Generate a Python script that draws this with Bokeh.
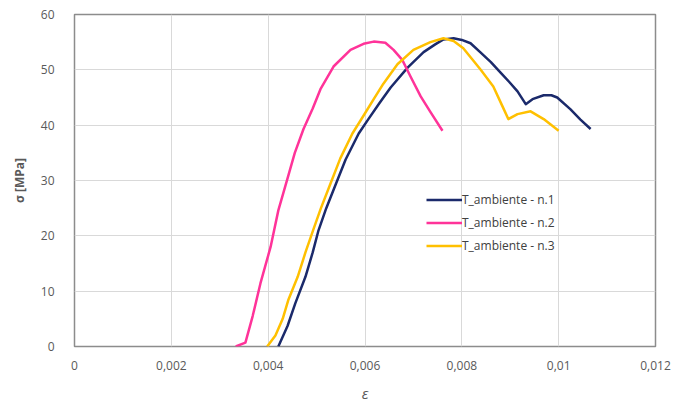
from bokeh.plotting import figure
from bokeh.models import Range1d, FixedTicker, CustomJSTickFormatter, Legend, LegendItem
from bokeh.embed import file_html
from bokeh.resources import INLINE

# strain / stress
eps_1 = [0.00421, 0.0044, 0.00456, 0.00477, 0.00492, 0.00504, 0.0052, 0.00539, 0.0056, 0.00587,
         0.00607, 0.0063, 0.00653, 0.00688, 0.00721, 0.00745, 0.00762, 0.00783, 0.008, 0.00818,
         0.00839, 0.0086, 0.0088, 0.00898, 0.00915, 0.00932, 0.00946, 0.00969, 0.00985,
         0.00997, 0.01024, 0.01045, 0.01066]
sig_1 = [0.0, 3.7, 7.8, 12.6, 17.0, 21.0, 25.0, 29.2, 33.8, 38.5,
         41.1, 44.0, 46.8, 50.4, 53.2, 54.6, 55.5, 55.7, 55.4, 54.8,
         53.1, 51.4, 49.5, 47.8, 46.1, 43.8, 44.7, 45.4, 45.4,
         45.0, 42.9, 41.0, 39.3]

eps_2 = [0.00333, 0.00353, 0.00368, 0.00384, 0.00405, 0.00421, 0.0044, 0.00455, 0.00473, 0.00492,
         0.00508, 0.00535, 0.0057, 0.00597, 0.00618, 0.00642, 0.00659, 0.00677, 0.00694,
         0.00715, 0.00735, 0.0076]
sig_2 = [0.0, 0.7, 5.5, 11.4, 18.0, 24.6, 30.4, 35.0, 39.3, 43.0,
         46.5, 50.6, 53.6, 54.7, 55.1, 54.9, 53.6, 51.8, 48.8,
         45.2, 42.4, 39.0]

eps_3 = [0.00398, 0.00415, 0.0043, 0.00442, 0.00461, 0.00477, 0.00494, 0.00509, 0.00529, 0.00549,
         0.00574, 0.00594, 0.00618, 0.00638, 0.00667, 0.007, 0.00735, 0.00762, 0.00783, 0.00803,
         0.00839, 0.00865, 0.00884, 0.00896, 0.00915, 0.00942, 0.00969, 0.01]
sig_3 = [0.0, 2.0, 5.0, 8.5, 12.6, 17.0, 21.3, 25.0, 29.5, 34.0,
         38.5, 41.3, 44.7, 47.5, 51.0, 53.6, 55.0, 55.7, 55.2, 53.9,
         50.0, 47.0, 43.4, 41.1, 42.0, 42.5, 41.1, 39.0]

series_names = ["T_ambiente - n.1", "T_ambiente - n.2", "T_ambiente - n.3"]
x_ticks = [0, 0.002, 0.004, 0.006, 0.008, 0.01, 0.012]
y_ticks = [0, 10, 20, 30, 40, 50, 60]

colors = ["#1B2A6B", "#FF3399", "#FFC000"]
font = "Open Sans"
txt = "#595959"

p = figure(width=674, height=405, output_backend="svg", toolbar_location=None,
           x_range=Range1d(0, 0.012), y_range=Range1d(0, 60),
           min_border_left=74, min_border_right=19, min_border_top=14, min_border_bottom=54)

renderers = []
for e, s, c in zip([eps_1, eps_2, eps_3], [sig_1, sig_2, sig_3], colors):
    renderers.append(p.line(e, s, line_color=c, line_width=2.5, line_join="round"))

p.xaxis.ticker = FixedTicker(ticks=x_ticks)
p.yaxis.ticker = FixedTicker(ticks=y_ticks)
p.xaxis.formatter = CustomJSTickFormatter(code="""
if (tick == 0) return "0";
return tick.toFixed(3).replace(/0+$/, '').replace('.', ',');
""")

for ax in [p.xaxis[0], p.yaxis[0]]:
    ax.axis_line_color = None
    ax.major_tick_line_color = None
    ax.minor_tick_line_color = None
    ax.major_label_text_font = font
    ax.major_label_text_font_size = "12px"
    ax.major_label_text_color = txt
    ax.axis_label_text_font = font
    ax.axis_label_text_color = txt

p.xaxis.major_label_standoff = 8
p.yaxis.major_label_standoff = 14
p.xaxis.axis_label = "ε"
p.xaxis.axis_label_text_font_style = "italic"
p.xaxis.axis_label_text_font_size = "15px"
p.xaxis.axis_label_standoff = 10
p.yaxis.axis_label = "σ [MPa]"
p.yaxis.axis_label_text_font_style = "bold"
p.yaxis.axis_label_text_font_size = "12px"
p.yaxis.axis_label_standoff = 10

p.xgrid.grid_line_color = "#D9D9D9"
p.ygrid.grid_line_color = "#D9D9D9"
p.outline_line_color = "#8C8C8C"
p.outline_line_width = 1.5

legend = Legend(items=[LegendItem(label=n, renderers=[r]) for n, r in zip(series_names, renderers)],
                location=(352, 92), background_fill_alpha=0, border_line_color=None,
                label_text_font=font, label_text_font_size="12px", label_text_color="#404040",
                glyph_width=36, glyph_height=15, label_height=15, spacing=6, padding=0,
                label_standoff=0, margin=0)
p.add_layout(legend, "center")

open("out.html", "w").write(file_html(p, INLINE))
